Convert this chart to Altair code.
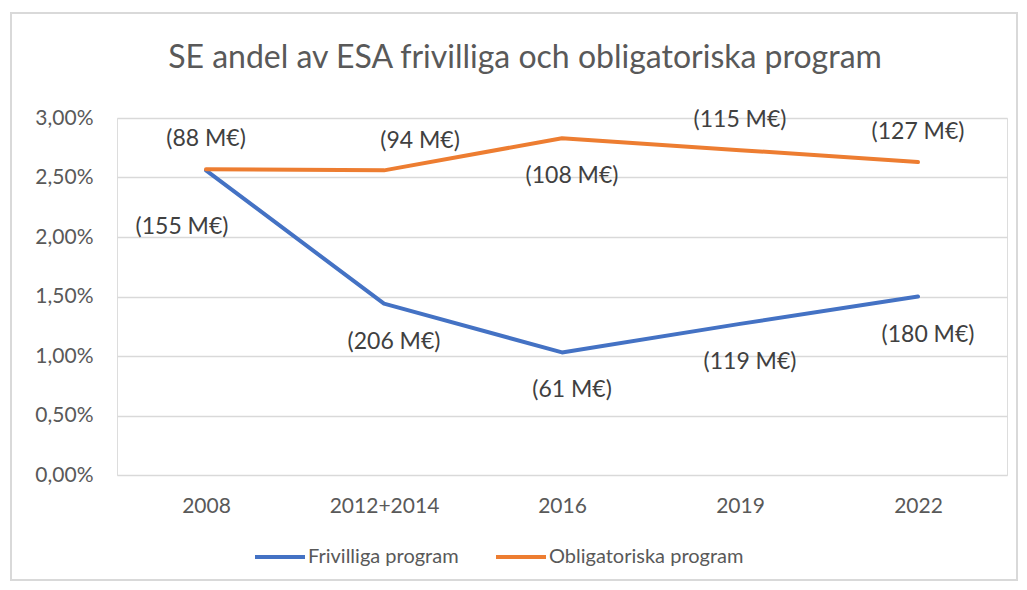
import altair as alt
import pandas as pd

years = ["2008", "2012+2014", "2016", "2019", "2022"]
series_names = ["Frivilliga program", "Obligatoriska program"]
frivilliga = [2.56, 1.44, 1.03, 1.27, 1.50]
obligatoriska = [2.57, 2.56, 2.83, 2.73, 2.63]
friv_labels = ["(155 M€)", "(206 M€)", "(61 M€)", "(119 M€)", "(180 M€)"]
oblig_labels = ["(88 M€)", "(94 M€)", "(108 M€)", "(115 M€)", "(127 M€)"]
friv_place = ["below_left", "below", "below", "below", "below"]
oblig_place = ["above", "above_right", "below", "above", "above"]
y_ticks = [0, 0.005, 0.01, 0.015, 0.02, 0.025, 0.03]

colors = ["#4472C4", "#ED7D31"]

rows = []
for name, vals, labs, places in [
    (series_names[0], frivilliga, friv_labels, friv_place),
    (series_names[1], obligatoriska, oblig_labels, oblig_place),
]:
    for yr, v, lab, pl in zip(years, vals, labs, places):
        rows.append({"year": yr, "series": name, "value": v / 100, "label": lab, "place": pl})
df = pd.DataFrame(rows)

FONT = "Lato"

x_enc = alt.X("year:N", sort=years, scale=alt.Scale(padding=0.5),
              axis=alt.Axis(title=None, labelAngle=0, domain=False, ticks=False,
                            labelPadding=20, labelFontSize=21, labelColor="#595959",
                            labelFont=FONT, grid=False))
y_enc = alt.Y("value:Q", scale=alt.Scale(domain=[0, 0.03], nice=False),
              axis=alt.Axis(title=None, values=y_ticks, domain=False, ticks=False,
                            labelPadding=24, labelFontSize=21, labelColor="#595959",
                            labelFont=FONT, gridColor="#D9D9D9", gridWidth=1.5,
                            labelExpr="replace(format(datum.value, '.2%'), '.', ',')"))

base = alt.Chart(df)

frame = base.mark_rect(fillOpacity=0, stroke="#D9D9D9", strokeWidth=1.5).encode(
    x=alt.value(-106), x2=alt.value(900), y=alt.value(-105), y2=alt.value(462)
)

lines = base.mark_line(strokeWidth=4, strokeCap="round", strokeJoin="round").encode(
    x=x_enc,
    y=y_enc,
    color=alt.Color("series:N", scale=alt.Scale(domain=series_names, range=colors),
                    legend=alt.Legend(title=None, orient="none", direction="horizontal",
                                      legendX=136, legendY=412,
                                      symbolType="stroke", symbolSize=2500,
                                      symbolStrokeWidth=4, labelFontSize=20,
                                      labelFont=FONT, labelColor="#595959",
                                      labelLimit=400,
                                      columnPadding=29, labelOffset=1)),
)

offsets = {"above": (0, -30), "above_right": (36, -29), "below": (10, 38), "below_left": (-24, 57)}

label_layers = []
for place, (dx, dy) in offsets.items():
    label_layers.append(
        base.transform_filter(alt.datum.place == place).mark_text(
            dx=dx, dy=dy, fontSize=23, font=FONT, color="#404040", baseline="middle"
        ).encode(x=alt.X("year:N", sort=years), y="value:Q", text="label:N")
    )

chart = alt.layer(frame, lines, *label_layers).properties(
    width=890,
    height=357,
    title=alt.TitleParams("SE andel av ESA frivilliga och obligatoriska program",
                          fontSize=32, font=FONT, color="#595959", fontWeight="normal",
                          anchor="middle", offset=-63, dx=-37),
    autosize=alt.AutoSizeParams(type="none"),
    padding={"left": 109, "top": 110, "right": 12, "bottom": 107},
).configure_view(stroke=None).configure(background="white")

chart.save("out.html", embed_options={"renderer": "svg", "actions": False})
